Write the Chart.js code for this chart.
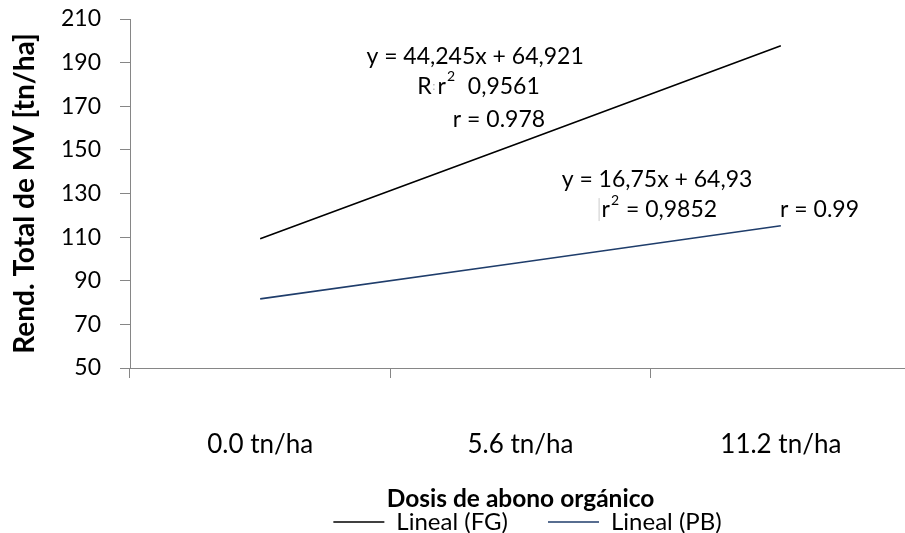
<!DOCTYPE html>
<html>
<head>
<meta charset="utf-8">
<script src="https://cdn.jsdelivr.net/npm/chart.js@4.4.0/dist/chart.umd.min.js"></script>
<style>
  html, body { margin: 0; padding: 0; background: #fff; overflow: hidden; }
  #wrap { width: 911px; height: 533px; }
</style>
</head>
<body>
<div id="wrap"><canvas id="rendimiento"></canvas></div>
<script>
var dosis = ['0.0 tn/ha', '5.6 tn/ha', '11.2 tn/ha'];
var linealFG = [109.2, 153.4, 197.7];
var linealPB = [81.7, 98.4, 115.2];
var yTicks = [50, 70, 90, 110, 130, 150, 170, 190, 210];

// regression text, one entry per line: pieces of [kind, text]
var ecuaciones = [
  [['txt', 'y = 44,245x + 64,921']],
  [['txt', 'R'], ['dot', ':'], ['txt', 'r'], ['sup', '2'], ['txt', '  0,9561']],
  [['txt', 'r = 0.978']],
  [['txt', 'y = 16,75x + 64,93']],
  [['bar', ''], ['txt', 'r'], ['sup', '2'], ['txt', ' = 0,9852']],
  [['txt', 'r = 0.99']]
];
// where each line starts: [category index, value]
var anclas = [[0.408, 193.0], [0.603, 178.9], [0.740, 163.7], [1.158, 136.2], [1.300, 122.4], [1.997, 122.4]];

var fuente = 'Lato, "Noto Sans", sans-serif';

var ecuacionesPlugin = {
    id: 'ecuaciones',
    afterDatasetsDraw: function (chart) {
        var ctx = chart.ctx;
        var xs = chart.scales.x;
        var ys = chart.scales.y;
        ctx.save();
        ctx.textBaseline = 'middle';
        ctx.textAlign = 'left';
        ecuaciones.forEach(function (linea, i) {
            var x = xs.getPixelForValue(anclas[i][0]);
            var y = ys.getPixelForValue(anclas[i][1]);
            linea.forEach(function (p) {
                if (p[0] === 'txt') {
                    ctx.font = '23px ' + fuente;
                    ctx.fillStyle = '#000';
                    ctx.fillText(p[1], x, y);
                    x += ctx.measureText(p[1]).width;
                } else if (p[0] === 'sup') {
                    ctx.font = '14px ' + fuente;
                    ctx.fillStyle = '#000';
                    ctx.fillText(p[1], x + 1, y - 10);
                    x += ctx.measureText(p[1]).width + 2;
                } else if (p[0] === 'dot') {
                    ctx.font = '11px ' + fuente;
                    ctx.fillStyle = '#aaa';
                    ctx.fillText(p[1], x + 1, y);
                    x += 6;
                } else if (p[0] === 'bar') {
                    ctx.strokeStyle = '#ccc';
                    ctx.lineWidth = 1;
                    ctx.beginPath();
                    ctx.moveTo(x + 0.5, y - 12);
                    ctx.lineTo(x + 0.5, y + 11);
                    ctx.stroke();
                    x += 3;
                }
            });
        });
        ctx.restore();
    }
};

// legend sits a little right of the plot centre
var legendShift = {
    id: 'legendShift',
    afterLayout: function (chart) {
        chart.legend.left += 7;
        chart.legend.right += 7;
    }
};

var ctx = document.getElementById('rendimiento').getContext('2d');
var chart = new Chart(ctx, {
    type: 'line',
    data: {
        labels: dosis,
        datasets: [
            {
                label: 'Lineal (FG)',
                data: linealFG,
                borderColor: '#000000',
                backgroundColor: '#000000',
                borderWidth: 1.6,
                pointRadius: 0,
                tension: 0,
                fill: false
            },
            {
                label: 'Lineal (PB)',
                data: linealPB,
                borderColor: '#1f3d6b',
                backgroundColor: '#1f3d6b',
                borderWidth: 1.6,
                pointRadius: 0,
                tension: 0,
                fill: false
            }
        ]
    },
    options: {
        responsive: true,
        maintainAspectRatio: false,
        animation: false,
        layout: { padding: { top: 19, right: 0, bottom: -11, left: 0 } },
        plugins: {
            legend: {
                position: 'bottom',
                fullSize: false,
                labels: {
                    usePointStyle: true,
                    pointStyle: 'line',
                    pointStyleWidth: 51,
                    padding: 40,
                    color: '#000',
                    font: { family: fuente, size: 24 }
                }
            },
            tooltip: { enabled: false }
        },
        scales: {
            x: {
                offset: true,
                grid: { drawOnChartArea: false, tickLength: 10, color: '#868686', offset: true },
                border: { color: '#868686', width: 1 },
                ticks: { padding: 51, color: '#000', font: { family: fuente, size: 26 } },
                title: {
                    display: true,
                    text: 'Dosis de abono orgánico',
                    color: '#000',
                    font: { family: fuente, size: 24.5, weight: 'bold' },
                    padding: { top: 0, bottom: -44 }
                },
                afterFit: function (scale) { scale.height = 102; }
            },
            y: {
                min: 50,
                max: 210,
                afterBuildTicks: function (scale) {
                    scale.ticks = yTicks.map(function (v) { return { value: v }; });
                },
                grid: { drawOnChartArea: false, tickLength: 10, color: '#868686' },
                border: { color: '#868686', width: 1 },
                ticks: { padding: 19, color: '#000', font: { family: fuente, size: 23 } },
                title: {
                    display: true,
                    text: 'Rend. Total de MV [tn/ha]',
                    color: '#000',
                    font: { family: fuente, size: 28, weight: 'bold' },
                    padding: { top: 8, bottom: 0 }
                },
                afterFit: function (scale) {
                    scale.width = 130;
                    scale.paddingTop = 0;
                    scale.paddingBottom = 0;
                }
            }
        }
    },
    plugins: [ecuacionesPlugin, legendShift]
});
</script>
</body>
</html>
